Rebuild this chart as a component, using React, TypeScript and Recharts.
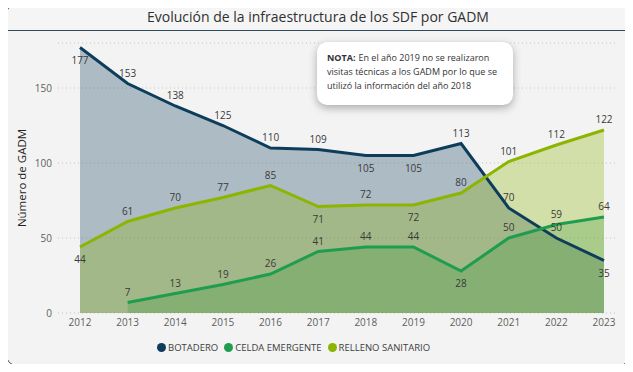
import {
  ComposedChart,
  Area,
  Line,
  XAxis,
  YAxis,
  CartesianGrid,
  LabelList,
} from "recharts";

const years = ["2012", "2013", "2014", "2015", "2016", "2017", "2018", "2019", "2020", "2021", "2022", "2023"];
const botadero = [177, 153, 138, 125, 110, 109, 105, 105, 113, 70, 50, 35];
const celda = [null, 7, 13, 19, 26, 41, 44, 44, 28, 50, 59, 64];
const relleno = [44, 61, 70, 77, 85, 71, 72, 72, 80, 101, 112, 122];
const yTicks = [0, 50, 100, 150];

// where each data label sits relative to its point
const botaderoPos = ["below", "above", "above", "above", "above", "above", "below", "below", "above", "above", "above", "below"];
const celdaPos = ["above", "above", "above", "above", "above", "above", "above", "above", "below", "above", "above", "above"];
const rellenoPos = ["below", "above", "above", "above", "above", "below", "above", "below", "above", "above", "above", "above"];

const noteLines = [
  "En el año 2019 no se realizaron",
  "visitas técnicas a los GADM por lo que se",
  "utilizó la información del año 2018",
];

const data = years.map((year, i) => ({
  year,
  botadero: botadero[i],
  celda: celda[i],
  relleno: relleno[i],
}));

const COLORS = {
  botadero: "#0e3d5b",
  celda: "#1f9d4f",
  relleno: "#8cb400",
};
const CELDA_FILL = "#3c9a3c";

const FONT = "'Open Sans', 'Noto Sans', sans-serif";

const makeLabel = (positions: string[]) => (props: any) => {
  const { x, y, value, index } = props;
  if (value == null) return null;
  const below = positions[index] === "below";
  return (
    <text
      x={x}
      y={below ? y + 12 : y - 11}
      textAnchor="middle"
      dominantBaseline="central"
      fontSize={10}
      fontFamily={FONT}
      fill="#3a3a3a"
    >
      {value}
    </text>
  );
};

const legendItems = [
  { name: "BOTADERO", color: COLORS.botadero },
  { name: "CELDA EMERGENTE", color: COLORS.celda },
  { name: "RELLENO SANITARIO", color: COLORS.relleno },
];

const App = () => {
  return (
    <div style={{ position: "relative", width: 633, height: 372, margin: -8, fontFamily: FONT, background: "#ffffff" }}>
      <div
        style={{
          position: "absolute",
          left: 5,
          top: 3,
          width: 624,
          height: 362,
          border: "1.5px solid #2f4b5b",
          borderRadius: 14,
          background: "#f3f3f3",
          overflow: "hidden",
        }}
      >
        <div
          style={{
            height: 26,
            borderBottom: "1.5px solid #2f4b5b",
            background: "#f5f5f6",
            textAlign: "center",
            lineHeight: "26px",
            fontSize: 14,
            color: "#303030",
          }}
        >
          Evolución de la infraestructura de los SDF por GADM
        </div>
      </div>

      <div style={{ position: "absolute", left: 0, top: 0 }}>
        <ComposedChart
          width={633}
          height={372}
          data={data}
          margin={{ top: 43, right: 18, bottom: 39, left: 18 }}
        >
          <CartesianGrid
            vertical={false}
            stroke="#c4c4c4"
            strokeDasharray="1 3"
          />
          <XAxis
            dataKey="year"
            scale="point"
            padding={{ left: 22, right: 11 }}
            axisLine={false}
            tickLine={false}
            tickSize={0}
            tickMargin={6}
            height={20}
            tick={{ fontSize: 10, fill: "#605e5c", fontFamily: FONT }}
          />
          <YAxis
            domain={[0, 180]}
            ticks={yTicks}
            width={40}
            axisLine={false}
            tickLine={false}
            tickSize={0}
            tickMargin={6}
            tick={{ fontSize: 10, fill: "#605e5c", fontFamily: FONT }}
            label={{
              content: () => (
                <text
                  x={21}
                  y={178}
                  transform="rotate(-90 21 178)"
                  textAnchor="middle"
                  dominantBaseline="central"
                  fontSize={11.5}
                  fontFamily={FONT}
                  fill="#252423"
                >
                  Número de GADM
                </text>
              ),
            }}
          />

          <Area
            dataKey="botadero"
            stroke="none"
            fill={COLORS.botadero}
            fillOpacity={0.3}
            isAnimationActive={false}
          />
          <Area
            dataKey="relleno"
            stroke="none"
            fill={COLORS.relleno}
            fillOpacity={0.3}
            isAnimationActive={false}
          />
          <Area
            dataKey="celda"
            stroke="none"
            fill={CELDA_FILL}
            fillOpacity={0.28}
            isAnimationActive={false}
          />

          <Line
            dataKey="botadero"
            stroke={COLORS.botadero}
            strokeWidth={3}
            dot={false}
            activeDot={false}
            isAnimationActive={false}
          >
            <LabelList dataKey="botadero" content={makeLabel(botaderoPos)} />
          </Line>
          <Line
            dataKey="relleno"
            stroke={COLORS.relleno}
            strokeWidth={3}
            dot={false}
            activeDot={false}
            isAnimationActive={false}
          >
            <LabelList dataKey="relleno" content={makeLabel(rellenoPos)} />
          </Line>
          <Line
            dataKey="celda"
            stroke={COLORS.celda}
            strokeWidth={3}
            dot={false}
            activeDot={false}
            isAnimationActive={false}
          >
            <LabelList dataKey="celda" content={makeLabel(celdaPos)} />
          </Line>
        </ComposedChart>
      </div>

      <div
        style={{
          position: "absolute",
          left: 317,
          top: 42,
          width: 196,
          height: 63,
          boxSizing: "border-box",
          background: "#ffffff",
          borderRadius: 10,
          boxShadow: "0 3px 8px rgba(0,0,0,0.3)",
          padding: "9px 8px 0 10px",
          fontSize: 9,
          lineHeight: "14px",
          color: "#333333",
          whiteSpace: "nowrap",
        }}
      >
        {noteLines.map((line, i) => (
          <div key={i} style={{ display: "flex" }}>
            {i === 0 && <span style={{ fontWeight: 700, marginRight: 3 }}>NOTA:</span>}
            <span>{line}</span>
          </div>
        ))}
      </div>

      <div
        style={{
          position: "absolute",
          left: 157,
          top: 341,
          display: "flex",
          alignItems: "center",
          fontSize: 9.5,
          color: "#404040",
          whiteSpace: "nowrap",
        }}
      >
        {legendItems.map((item) => (
          <div key={item.name} style={{ display: "flex", alignItems: "center", marginRight: 6 }}>
            <span
              style={{
                display: "inline-block",
                width: 9,
                height: 9,
                borderRadius: "50%",
                background: item.color,
                marginRight: 2,
              }}
            />
            <span>{item.name}</span>
          </div>
        ))}
      </div>
    </div>
  );
};

export default App;
